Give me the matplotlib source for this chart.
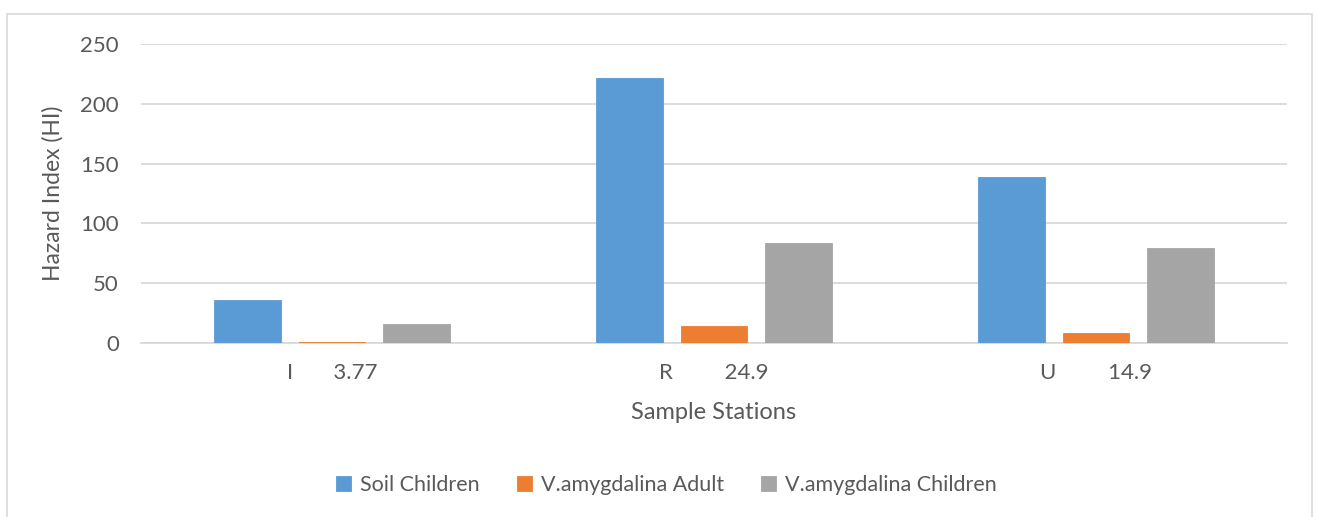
import matplotlib
matplotlib.use("Agg")
import matplotlib.pyplot as plt
import numpy as np
from matplotlib.patches import Rectangle

categories = ["I       3.77", "R         24.9", "U         14.9"]
series_names = ["Soil Children", "V.amygdalina Adult", "V.amygdalina Children"]
soil_children = [35.8, 221.7, 138.5]
va_adult = [1.3, 14.2, 8.3]
va_children = [16.1, 83.6, 79.2]
colors = ["#5B9BD5", "#ED7D31", "#A5A5A5"]

plt.rcParams['font.family'] = ['Lato', 'DejaVu Sans']
txt = "#595959"

fig = plt.figure(figsize=(13.17, 5.17), dpi=100)
ax = fig.add_axes([0.1071, 0.336, 0.8701, 0.5795])

x = np.arange(len(categories))
width = 0.174
step = 0.221
for i, (vals, name, c) in enumerate(zip([soil_children, va_adult, va_children], series_names, colors)):
    ax.bar(x + (i - 1) * step, vals, width, color=c, label=name, zorder=3,
           edgecolor=c, linewidth=0.6)

ax.set_xlim(-0.5, len(categories) - 0.5)
ax.set_ylim(0, 250)
ax.set_yticks([0, 50, 100, 150, 200, 250])
ax.set_xticks(x)
ax.set_xticklabels(categories)
ax.grid(axis='y', color='#d9d9d9', linewidth=1.3, zorder=0)
ax.set_axisbelow(True)
for s in ['top', 'right', 'left']:
    ax.spines[s].set_visible(False)
ax.spines['bottom'].set_color('#d9d9d9')
ax.spines['bottom'].set_linewidth(1.3)
ax.tick_params(axis='both', length=0, labelsize=16, labelcolor=txt)
ax.tick_params(axis='y', pad=16)
ax.tick_params(axis='x', pad=14)
ax.set_ylabel("Hazard Index (HI)", fontsize=16.5, color=txt, labelpad=12)
ax.set_xlabel("Sample Stations", fontsize=17, color=txt, labelpad=14)

leg = fig.legend(loc='center', bbox_to_anchor=(0.506, 0.062), ncol=3, frameon=False,
                 fontsize=15.5, labelcolor=txt, handlelength=0.7, handleheight=0.7,
                 columnspacing=1.75, handletextpad=0.4)

fig.patches.append(Rectangle((7 / 1317, -0.05), 1 - 12 / 1317, 1.05 - 14 / 517,
                             transform=fig.transFigure, fill=False,
                             edgecolor='#d9d9d9', linewidth=1.2))

fig.savefig("out.png", dpi=100)
